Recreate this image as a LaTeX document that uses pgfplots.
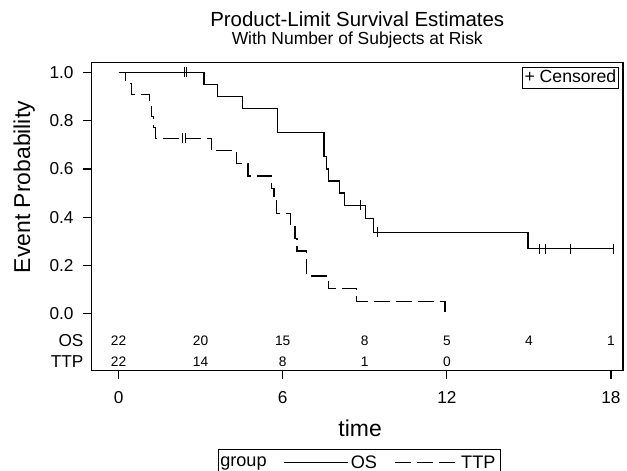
\documentclass[border=0pt]{standalone}
\usepackage{fontspec}
\setmainfont{Liberation Sans}
\usepackage{pgfplots}
\usepackage{pgfplotstable}
\pgfplotsset{compat=1.18}

\newcommand{\fs}[1]{\fontsize{#1}{#1}\selectfont}
\pgfplotsset{longline/.style={legend image code/.code={\draw[##1] (0bp,0bp) -- (64bp,0bp);}}}

% Kaplan-Meier steps, OS
\pgfplotstableread{
t s
0 1
3.12 0.95
3.61 0.90
4.52 0.85
5.80 0.75
7.51 0.65
7.60 0.60
7.66 0.55
8.09 0.50
8.27 0.45
9.04 0.394
9.31 0.3375
14.97 0.27
18.09 0.27
}\osline

% Kaplan-Meier steps, TTP
\pgfplotstableread{
t s
0 1
0.26 0.9545
0.46 0.909
1.13 0.864
1.20 0.818
1.28 0.773
1.35 0.727
3.39 0.675
4.31 0.623
4.73 0.571
5.60 0.519
5.68 0.467
5.77 0.4156
6.28 0.364
6.45 0.312
6.52 0.260
6.86 0.208
6.88 0.156
7.66 0.104
8.70 0.052
11.93 0
}\ttpline

% censored observations
\pgfplotstableread{
t s
2.40 1
2.48 1
8.84 0.45
9.47 0.3375
15.40 0.27
15.62 0.27
16.53 0.27
18.09 0.27
2.35 0.727
2.45 0.727
}\censored

% numbers at risk
\pgfplotstableread{
t y n
0 -0.1118 22
3 -0.1118 20
6 -0.1118 15
9 -0.1118 8
12 -0.1118 5
15 -0.1118 4
18 -0.1118 1
}\osrisk
\pgfplotstableread{
t y n
0 -0.1988 22
3 -0.1988 14
6 -0.1988 8
9 -0.1988 1
12 -0.1988 0
}\ttprisk

\begin{document}
\begin{tikzpicture}
\useasboundingbox (-91.5bp,-100.3bp) rectangle (535.5bp,370.7bp);
\begin{axis}[
  scale only axis, width=531.5bp, height=308.2bp,
  at={(0,0)}, anchor=south west,
  xmin=-0.99, xmax=18.44, ymin=-0.236, ymax=1.041,
  xtick={0,6,12,18}, ytick={0,0.2,0.4,0.6,0.8,1},
  xtick pos=bottom, ytick pos=left, tick align=outside,
  major tick length=8.5bp,
  axis line style={line width=1.2bp},
  every tick/.style={black, line width=1.2bp},
  /pgf/number format/assume math mode=true,
  yticklabel style={/pgf/number format/fixed, /pgf/number format/fixed zerofill,
    /pgf/number format/precision=1, xshift=-6bp},
  xticklabel style={yshift=-8.5bp},
  tick label style={font=\fs{17.3}},
  extra y ticks={-0.1118,-0.1988},
  extra y tick labels={OS,TTP},
  extra y tick style={major tick length=0pt, yticklabel style={xshift=1.5bp}},
  clip=false,
  legend columns=-1,
  legend style={at={(0.504,-0.255)}, anchor=north, draw=black, line width=1bp,
    font=\fs{18.2}, inner xsep=3bp, inner ysep=4bp,
    /tikz/every even column/.append style={column sep=15bp}},
]
\addlegendimage{empty legend}
\addlegendentry{\hspace{-3bp}group\hspace{6bp}}

\addplot[const plot, black, line width=1.2bp, longline]
  table[x=t, y=s] {\osline};
\addlegendentry{OS}

\addplot[const plot, black, line width=1.2bp, dash pattern=on 16bp off 6bp, longline]
  table[x=t, y=s] {\ttpline};
\addlegendentry{TTP\hspace{3bp}}

\addplot[forget plot, only marks, mark=|, mark size=5bp, black,
  mark options={line width=1.2bp}]
  table[x=t, y=s] {\censored};

\addplot[forget plot, draw=none, mark=none, nodes near coords,
  point meta=explicit symbolic,
  nodes near coords style={anchor=center, font=\fs{13.8}, black}]
  table[x=t, y=y, meta=n] {\osrisk};
\addplot[forget plot, draw=none, mark=none, nodes near coords,
  point meta=explicit symbolic,
  nodes near coords style={anchor=center, font=\fs{13.8}, black}]
  table[x=t, y=y, meta=n] {\ttprisk};

% titles and axis labels
\node[anchor=base, font=\fs{20.5}] at ([yshift=35.5bp]rel axis cs:0.5,1) {Product-Limit Survival Estimates};
\node[anchor=base, font=\fs{17.5}] at ([yshift=17.5bp]rel axis cs:0.5,1) {With Number of Subjects at Risk};
\node[anchor=base, font=\fs{23}] at (axis cs:8.83,-0.5095) {time};
\node[anchor=base, rotate=90, font=\fs{23}] at (axis cs:-3.235,0.525) {Event Probability};
\node[anchor=north east, draw=black, line width=1bp, font=\fs{17.7}, inner xsep=2bp,
  inner ysep=2bp, text height=13.5bp, text depth=4bp]
  at ([xshift=-4.3bp, yshift=-4.3bp]rel axis cs:1,1) {+ Censored};
\end{axis}
\end{tikzpicture}
\end{document}
